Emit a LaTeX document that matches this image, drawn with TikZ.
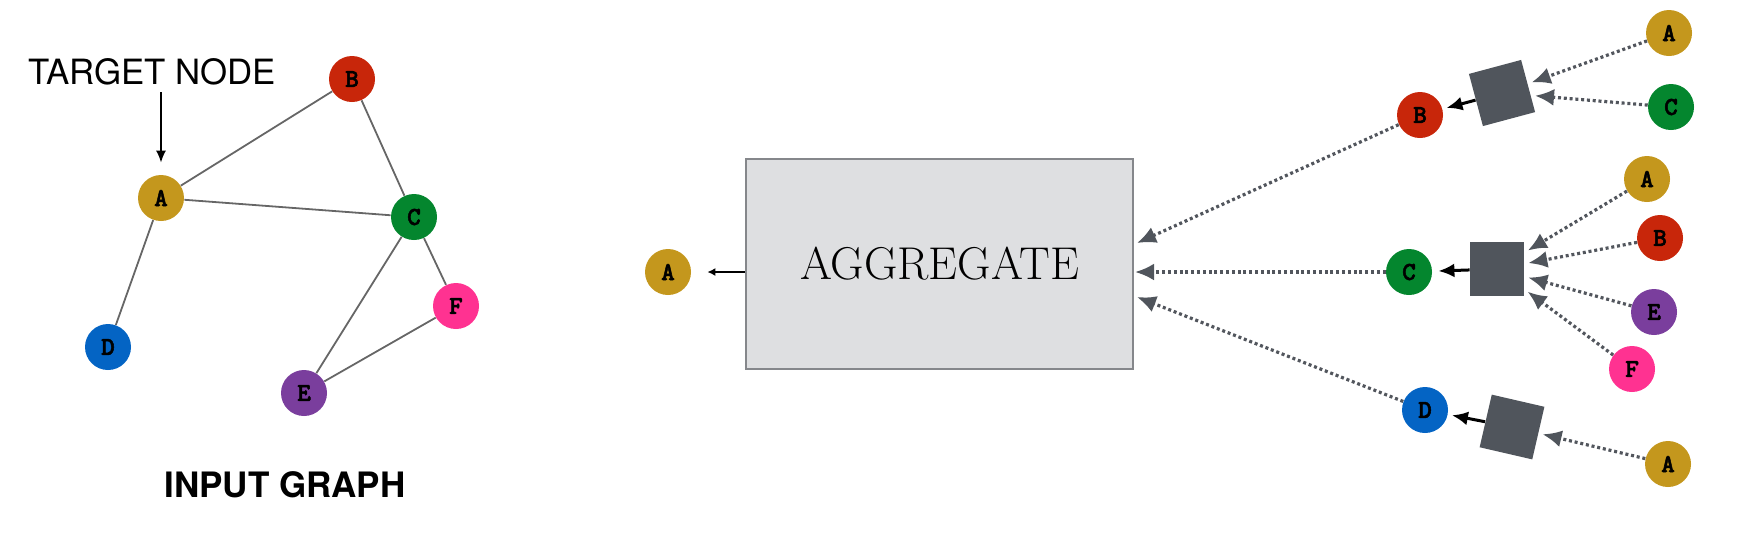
\documentclass[tikz,border=0pt]{standalone}
\usepackage{fontspec}
\newfontfamily\heros{TeX Gyre Heros}
\newfontfamily\letfont{lmmonolt10-bold.otf}[FakeBold=2]
\usetikzlibrary{arrows.meta}
\definecolor{cA}{HTML}{C4971D}
\definecolor{cB}{HTML}{C8260A}
\definecolor{cC}{HTML}{04862E}
\definecolor{cD}{HTML}{0464C4}
\definecolor{cE}{HTML}{7A3E9D}
\definecolor{cF}{HTML}{FF3291}
\definecolor{edgegray}{HTML}{666666}
\definecolor{sqgray}{HTML}{50555C}
\definecolor{dotgray}{HTML}{52565D}
\definecolor{boxfill}{HTML}{DEDFE1}
\definecolor{boxedge}{HTML}{85878B}
\tikzset{
  vert/.style={circle, minimum size=23pt, inner sep=0pt, fill=#1,
    font=\fontsize{13}{13}\letfont},
  edge/.style={draw=edgegray, line width=0.9pt},
  msg/.style={draw=dotgray, line width=1.6pt, dash pattern=on 1.5pt off 1.4pt,
    -{Latex[length=9.5pt,width=8.5pt,color=sqgray]}},
  push/.style={line width=1.5pt, -{Latex[length=8pt,width=7pt]}, shorten >=2pt},
  sqbox/.style={fill=sqgray, minimum size=27pt, inner sep=0pt},
}
\begin{document}
\begin{tikzpicture}[x=0.5pt,y=-0.5pt]
\useasboundingbox (0,0) rectangle (1743,554);
% input graph
\node[vert=cA] (a) at (161,198) {A};
\node[vert=cB] (b) at (352,79) {B};
\node[vert=cC] (c) at (414,217) {C};
\node[vert=cD] (d) at (108,347) {D};
\node[vert=cE] (e) at (304,393) {E};
\node[vert=cF] (f) at (456,306) {F};
\draw[edge] (a) -- (b) (b) -- (c) (a) -- (c) (a) -- (d) (c) -- (e) (c) -- (f) (e) -- (f);
\node[font=\fontsize{17.4}{20}\heros] (tgt) at (152,72) {TARGET NODE};
\draw[line width=0.8pt, -{Latex[length=6pt,width=5pt]}, shorten >=6pt] (tgt.south -| a) -- (a.north -| tgt.south -| a);
\node[font=\fontsize{17.5}{20}\heros\bfseries] (cap) at (285,485) {INPUT GRAPH};
% aggregation tree
\node[draw=boxedge, line width=0.8pt, fill=boxfill, minimum width=193.5pt, minimum height=105pt,
  font=\fontsize{23}{27}\selectfont] (agg) at (939.5,264) {AGGREGATE};
\node[vert=cA] (a0) at (668,272) {A};
\draw[line width=0.7pt, -{Latex[length=4pt,width=4pt]}, shorten >=8pt] (agg.west |- a0) -- (a0);
\node[vert=cB] (b1) at (1420,115) {B};
\node[vert=cC] (c1) at (1409,272) {C};
\node[vert=cD] (d1) at (1425,410) {D};
\coordinate (inb) at (1137,243);
\coordinate (inc) at (1135,272);
\coordinate (ind) at (1137,297);
\draw[msg] (b1) -- (inb);
\draw[msg] (c1) -- (inc);
\draw[msg] (d1) -- (ind);
\node[sqbox, rotate=15] (sqb) at (1502,93) {};
\node[sqbox] (sqc) at (1497,269) {};
\node[sqbox, rotate=-13] (sqd) at (1512,427) {};
\draw[push] (sqb) -- (b1);
\draw[push, shorten >=3pt] (sqc) -- (c1);
\draw[push] (sqd) -- (d1);
% neighbours
\node[vert=cA] (ab) at (1669,33) {A};
\node[vert=cC] (cb) at (1671,107) {C};
\node[vert=cA] (ac) at (1647,179) {A};
\node[vert=cB] (bc) at (1660,238) {B};
\node[vert=cE] (ec) at (1654,312) {E};
\node[vert=cF] (fc) at (1632,369) {F};
\node[vert=cA] (ad) at (1668,464) {A};
\foreach \src/\dst in {ab/sqb, cb/sqb, ac/sqc, bc/sqc, ec/sqc, fc/sqc, ad/sqd}
  \draw[msg, shorten >=2pt] (\src) -- (\dst);
\end{tikzpicture}
\end{document}
